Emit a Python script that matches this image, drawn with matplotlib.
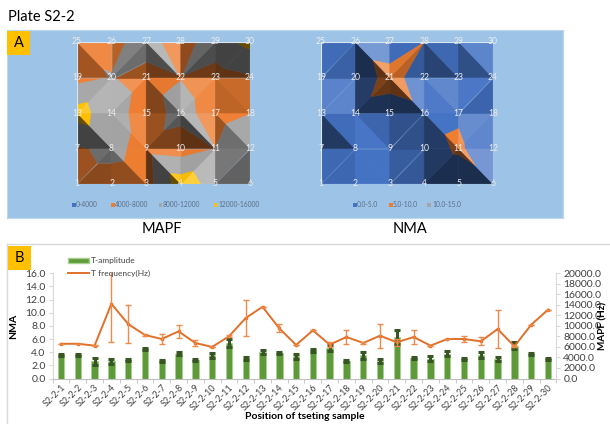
import numpy as np
import matplotlib
matplotlib.use("Agg")
import matplotlib.pyplot as plt
from matplotlib.patches import Rectangle
from matplotlib.colors import to_rgb
from matplotlib.lines import Line2D
from matplotlib.patches import Patch

plt.rcParams['font.family'] = ['Lato', 'DejaVu Sans']

# ---- data: 30 testing positions on plate S2-2 ----
samples = [f"S2-2-{i}" for i in range(1, 31)]
nma = [3.6, 3.6, 2.6, 2.6, 2.8, 4.5, 2.6, 3.8, 2.8, 3.5,
       5.45, 3.0, 4.1, 3.9, 3.4, 4.3, 4.65, 2.6, 3.5, 2.6,
       6.3, 3.1, 3.0, 3.8, 2.9, 3.6, 2.9, 4.98, 3.8, 3.0]
nma_err = [0.2, 0.2, 0.5, 0.4, 0.2, 0.15, 0.15, 0.3, 0.15, 0.4,
           0.6, 0.2, 0.3, 0.15, 0.4, 0.2, 0.4, 0.15, 0.5, 0.3,
           1.1, 0.2, 0.4, 0.4, 0.15, 0.5, 0.3, 0.55, 0.15, 0.15]
mapf = [6600, 6600, 6250, 14200, 10350, 8270, 7510, 8960, 6750, 6000,
        8020, 11490, 13640, 9530, 6380, 9150, 6440, 7890, 6750, 8140,
        6880, 7890, 6250, 7510, 7510, 7070, 9400, 6120, 10230, 13070]
mapf_err = [0, 0, 150, 7300, 3535, 150, 950, 1260, 500, 0,
            200, 3400, 0, 760, 0, 0, 440, 1390, 150, 2300,
            630, 1360, 0, 0, 500, 790, 3600, 200, 0, 0]

mapf_levels = [0, 4000, 8000, 12000, 16000]
mapf_labels = ["0-4000", "4000-8000", "8000-12000", "12000-16000"]
nma_levels = [0, 5, 10, 15]
nma_labels = ["0.0-5.0", "5.0-10.0", "10.0-15.0"]
band_colors = ["#4472C4", "#ED7D31", "#A5A5A5", "#FFC000"]

W, H = 610, 424
fig = plt.figure(figsize=(W / 100, H / 100), dpi=100)


def fbox(x0, y0, x1, y1):
    """pixel box (top-left origin) -> figure fraction rect"""
    return [x0 / W, 1 - y1 / H, (x1 - x0) / W, (y1 - y0) / H]


# ---- panel backgrounds and badges ----
bg = fig.add_axes(fbox(7, 30, 563, 218), zorder=-5)
bg.set_facecolor("#9DC3E6")
bg.set_xticks([])
bg.set_yticks([])
for s in bg.spines.values():
    s.set_color("#BDD7EE")
    s.set_linewidth(0.8)

fig.add_artist(Line2D([7 / W, 1], [1 - 244 / H] * 2, color="#D9D9D9", lw=1.0))
fig.add_artist(Line2D([7 / W] * 2, [1 - 244 / H, 0], color="#D9D9D9", lw=1.0))
for (x0, y0, lab) in [(7, 31, "A"), (8, 246, "B")]:
    fig.patches.append(Rectangle((x0 / W, 1 - (y0 + 24) / H), 23 / W, 24 / H,
                                 transform=fig.transFigure, facecolor="#FFC000",
                                 edgecolor="none", zorder=5))
    fig.text((x0 + 11.5) / W, 1 - (y0 + 12) / H, lab, ha="center", va="center",
             fontsize=10.5, color="black", zorder=6)

fig.text(8 / W, 1 - 17 / H, "Plate S2-2", fontsize=10.5, va="center", ha="left")
fig.text(162 / W, 1 - 229 / H, "MAPF", fontsize=10.5, va="center", ha="center")
fig.text(410 / W, 1 - 229 / H, "NMA", fontsize=10.5, va="center", ha="center")


def clip(poly, val, above):
    out = []
    n = len(poly)
    for i in range(n):
        p, q = poly[i], poly[(i + 1) % n]
        pin = p[2] >= val if above else p[2] <= val
        qin = q[2] >= val if above else q[2] <= val
        if pin:
            out.append(p)
        if pin != qin:
            t = (val - p[2]) / (q[2] - p[2])
            out.append(tuple(p[k] + t * (q[k] - p[k]) for k in range(3)))
    return out


LIGHT = np.array([0.55, 0.75, 1.0])
LIGHT = LIGHT / np.linalg.norm(LIGHT)


def shaded(color, tri, zmax, gain):
    pts = np.array([[x, y, z / zmax * 3.0] for x, y, z in tri])
    nrm = np.cross(pts[1] - pts[0], pts[2] - pts[0])
    if nrm[2] < 0:
        nrm = -nrm
    nrm = nrm / np.linalg.norm(nrm)
    t = gain * (nrm @ LIGHT - LIGHT[2]) - 0.06
    t = max(-0.6, min(0.65, t))
    rgb = np.array(to_rgb(color))
    if t > 0:
        return tuple(rgb + (1 - rgb) * t)
    return tuple(rgb * (1 + t))


def surface_map(box, values, levels, labels, zmax, legend_x, gain):
    ax = fig.add_axes(fbox(*box), zorder=2)
    ax.set_xlim(1, 6)
    ax.set_ylim(1, 5)
    ax.axis("off")
    grid = np.array(values, dtype=float).reshape(5, 6)
    for r in range(4):
        for c in range(5):
            bl = (c + 1, r + 1, grid[r, c])
            br = (c + 2, r + 1, grid[r, c + 1])
            tl = (c + 1, r + 2, grid[r + 1, c])
            tr = (c + 2, r + 2, grid[r + 1, c + 1])
            corners = [bl, br, tl, tr]
            top = max(range(4), key=lambda k: corners[k][2])
            if top in (0, 3):
                tris = [(bl, br, tr), (bl, tr, tl)]
            else:
                tris = [(bl, br, tl), (br, tr, tl)]
            for tri in tris:
                for b in range(len(levels) - 1):
                    poly = clip(list(tri), levels[b], True)
                    if poly and b < len(levels) - 2:
                        poly = clip(poly, levels[b + 1], False)
                    if len(poly) < 3:
                        continue
                    col = shaded(band_colors[b], tri, zmax, gain)
                    ax.fill([p[0] for p in poly], [p[1] for p in poly],
                            facecolor=col, edgecolor=col, lw=0.4)
    ax.add_patch(Rectangle((1, 1), 5, 4, fill=False, edgecolor="#D9E6F2", lw=0.8))
    for k in range(30):
        ax.text(k % 6 + 1, k // 6 + 1, str(k + 1), ha="center", va="center",
                fontsize=6.2, color="#EDEDED", clip_on=False)
    # legend row
    for b, (lab, lx) in enumerate(zip(labels, legend_x)):
        fig.patches.append(Rectangle(((lx - 4.5) / W, 1 - 206.5 / H), 4 / W, 4 / H,
                                     transform=fig.transFigure, zorder=3,
                                     facecolor=band_colors[b], edgecolor="none"))
        fig.text(lx / W, 1 - 204.5 / H, lab, fontsize=4.8, color="#5A6E86",
                 va="center", ha="left", zorder=3)


surface_map((77, 42, 250, 184), mapf, mapf_levels, mapf_labels, 16000,
            [76, 115, 163, 218], 1.25)
surface_map((321, 42, 493, 184), nma, nma_levels, nma_labels, 15,
            [357, 393, 432], 1.5)

# ---- panel B: amplitude bars and frequency line ----
ax = fig.add_axes(fbox(52.6, 273.3, 556.4, 378.5))
x = np.arange(1, 31)
ax.bar(x, nma, width=0.38, color="#5E9A3A", edgecolor="#A9D18E", lw=0.6, zorder=2)
ax.errorbar(x, nma, yerr=nma_err, fmt="none", ecolor="#375623", elinewidth=2.2,
            capsize=2.2, capthick=2.2, zorder=3)
ax.set_xlim(0.5, 30.5)
ax.set_ylim(0, 16)
ax.set_yticks(np.arange(0, 16.1, 2))
ax.set_yticklabels([f"{v:.1f}" for v in np.arange(0, 16.1, 2)])
ax.set_xticks(x)
ax.set_xticklabels(samples, rotation=45, ha="right", rotation_mode="anchor",
                   fontsize=6.5)
ax.set_xticks(np.arange(0.5, 31), minor=True)
ax.tick_params(axis="x", which="major", length=0, pad=3, colors="#404040")
ax.tick_params(axis="x", which="minor", length=3, color="#BFBFBF")
ax.tick_params(axis="y", length=3, color="#D9D9D9", labelsize=7.5, labelcolor="#404040",
               pad=2)
for s in ("top", "right"):
    ax.spines[s].set_visible(False)
ax.spines["left"].set_color("#D9D9D9")
ax.spines["bottom"].set_color("#BFBFBF")
ax.set_ylabel("NMA", fontsize=7.5, fontweight="bold", labelpad=5)
ax.set_xlabel("Position of tseting sample", fontsize=7.5, fontweight="bold", labelpad=0)

ax2 = ax.twinx()
ax2.plot(x, mapf, color="#E0702A", lw=1.4, marker="s", ms=1.8, zorder=4)
ax2.errorbar(x, mapf, yerr=mapf_err, fmt="none", ecolor="#F08A4B", elinewidth=1.0,
             capsize=2.2, capthick=1.0, zorder=4)
ax2.set_ylim(0, 20000)
ax2.set_yticks(np.arange(0, 20001, 2000))
ax2.set_yticklabels([f"{v:.1f}" for v in np.arange(0, 20001, 2000)])
ax2.tick_params(axis="y", length=3, color="#D9D9D9", labelsize=7.5, labelcolor="#404040",
                pad=2)
for s in ("top", "left", "bottom"):
    ax2.spines[s].set_visible(False)
ax2.spines["right"].set_color("#D9D9D9")
ax2.set_ylabel("MAPF (Hz)", fontsize=7.2, fontweight="bold", labelpad=-2)

handles = [Patch(facecolor="#5E9A3A", edgecolor="#A9D18E"),
           Line2D([], [], color="#E0702A", lw=1.4)]
fig.legend(handles, ["T-amplitude", "T frequency(Hz)"], loc="upper left",
           bbox_to_anchor=(60 / W, 1 - 250 / H), frameon=False, fontsize=6,
           handlelength=2.6, handleheight=0.5, labelspacing=0.6, handletextpad=0.2,
           labelcolor="#404040")

fig.savefig("out.png", dpi=100)
